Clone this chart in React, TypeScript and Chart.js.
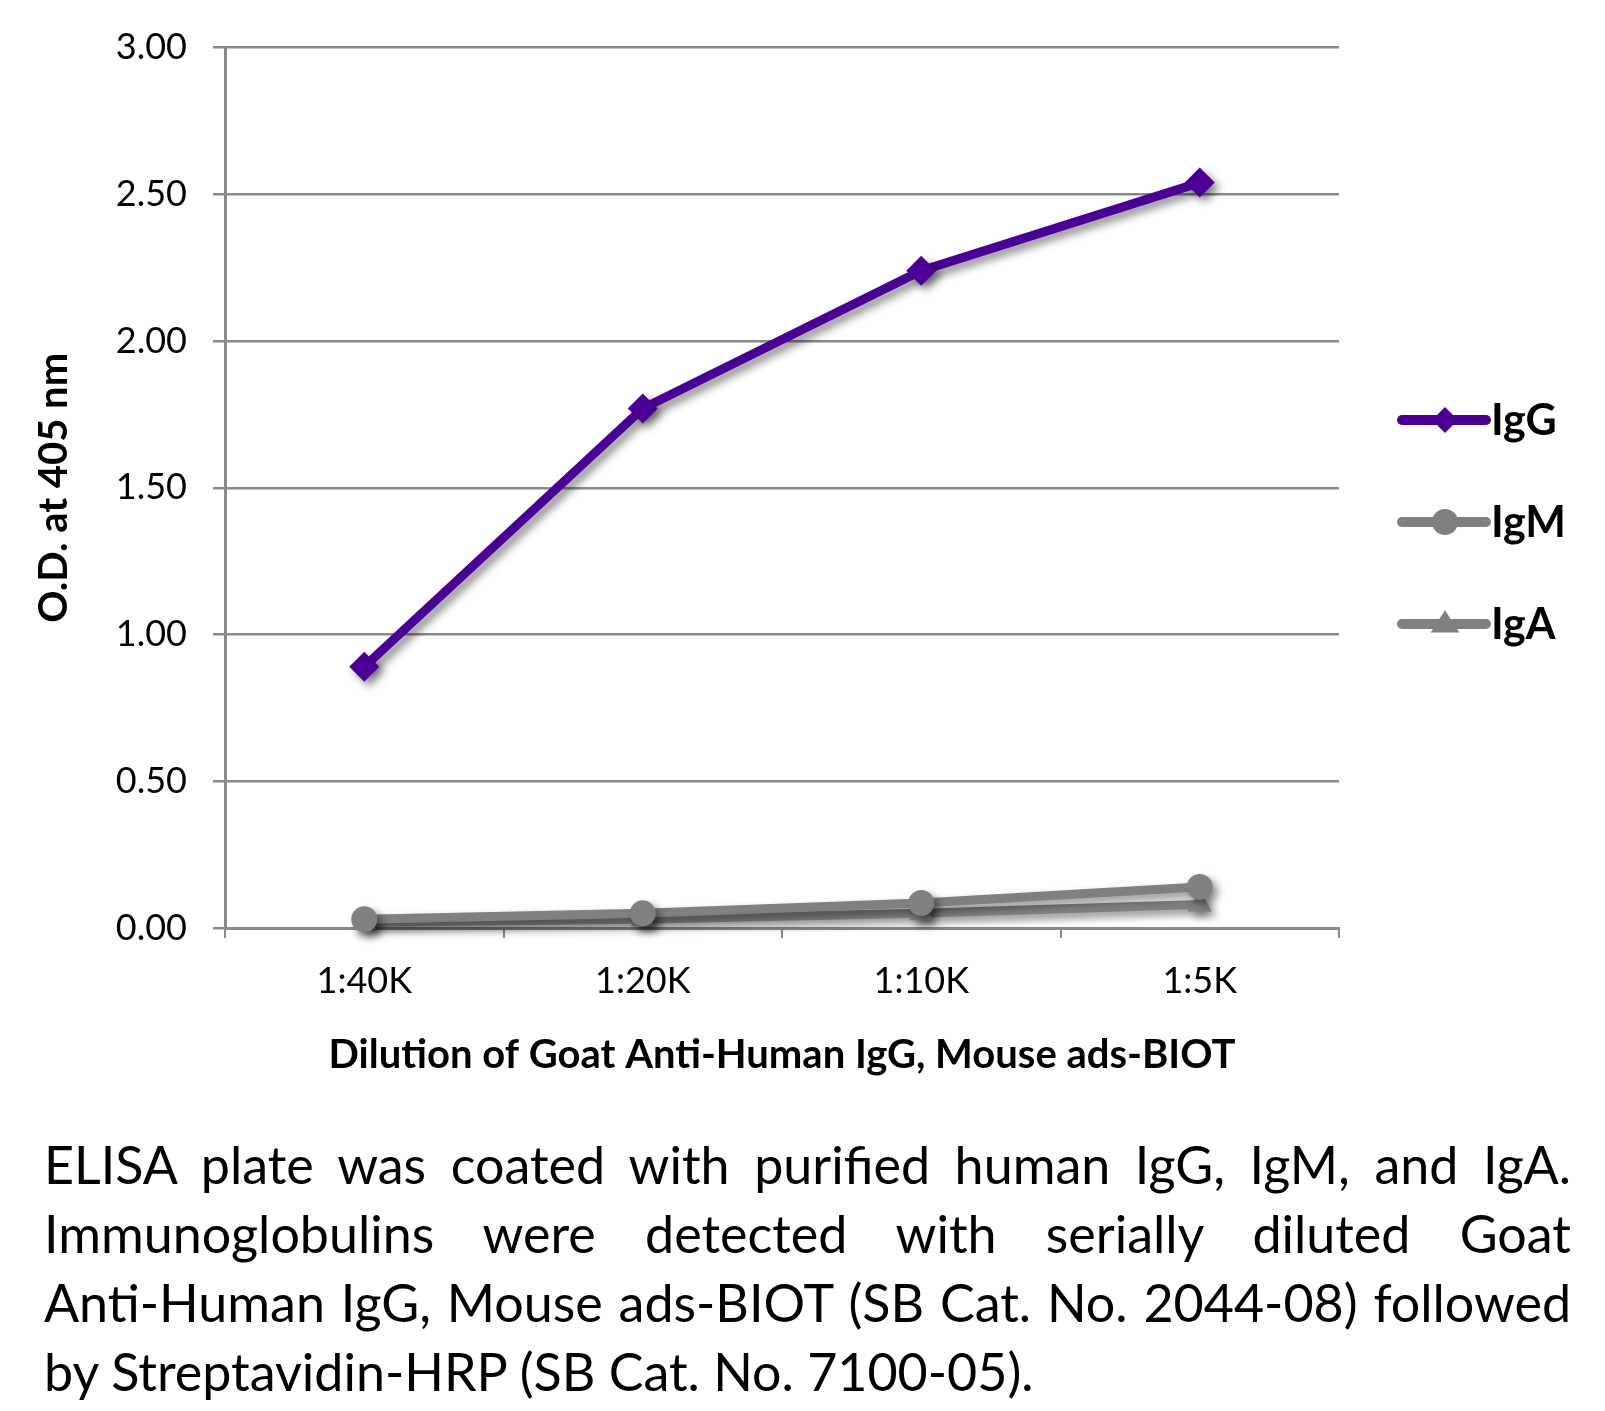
import React, { useEffect, useRef } from "react";
import { Chart, registerables } from "chart.js";

Chart.register(...registerables);

const categories = ["1:40K", "1:20K", "1:10K", "1:5K"];
const igG = [0.89, 1.77, 2.24, 2.54];
const igM = [0.03, 0.05, 0.085, 0.14];
const igA = [0.02, 0.03, 0.05, 0.08];
const seriesNames = ["IgG", "IgM", "IgA"];
const yTickValues = [0, 0.5, 1, 1.5, 2, 2.5, 3];
const yTitle = "O.D. at 405 nm";
const xTitle = "Dilution of Goat Anti-Human IgG, Mouse ads-BIOT";
const captionLines = [
  "ELISA plate was coated with purified human IgG, IgM, and IgA.",
  "Immunoglobulins were detected with serially diluted Goat",
  "Anti-Human IgG, Mouse ads-BIOT (SB Cat. No. 2044-08) followed",
  "by Streptavidin-HRP (SB Cat. No. 7100-05).",
];

const PURPLE = "#4B0095";
const GRAY = "#808080";
const AXIS = "#8a8a8a";
const CANVAS_W = 1605;
const CANVAS_H = 1100;
const PLOT_LEFT = 225;
const PLOT_RIGHT = 1339;
const PLOT_TOP = 46;
const PLOT_BOTTOM = 928;

const shadowPlugin = {
  id: "shadowPlugin",
  beforeDatasetsDraw(chart: any) {
    const ctx = chart.ctx;
    ctx.save();
    ctx.shadowColor = "rgba(0,0,0,0.45)";
    ctx.shadowBlur = 9;
    ctx.shadowOffsetX = 5;
    ctx.shadowOffsetY = 5;
  },
  afterDatasetsDraw(chart: any) {
    chart.ctx.restore();
  },
};

function drawMarker(ctx: CanvasRenderingContext2D, style: string, x: number, y: number, r: number) {
  ctx.beginPath();
  if (style === "rectRot") {
    ctx.moveTo(x - r, y);
    ctx.lineTo(x, y - r);
    ctx.lineTo(x + r, y);
    ctx.lineTo(x, y + r);
    ctx.closePath();
  } else if (style === "circle") {
    ctx.arc(x, y, r, 0, Math.PI * 2);
  } else {
    const h = r * 1.7;
    ctx.moveTo(x, y - h * 0.62);
    ctx.lineTo(x + r * 1.1, y + h * 0.38);
    ctx.lineTo(x - r * 1.1, y + h * 0.38);
    ctx.closePath();
  }
  ctx.fill();
}

const legendPlugin = {
  id: "customLegend",
  afterDraw(chart: any) {
    const ctx = chart.ctx as CanvasRenderingContext2D;
    const ys = [420, 522, 624];
    ctx.save();
    chart.data.datasets.forEach((ds: any, i: number) => {
      const y = ys[i];
      ctx.strokeStyle = ds.borderColor;
      ctx.fillStyle = ds.borderColor;
      ctx.lineWidth = 10;
      ctx.lineCap = "round";
      ctx.beginPath();
      ctx.moveTo(1402, y);
      ctx.lineTo(1486, y);
      ctx.stroke();
      drawMarker(ctx, ds.pointStyle, 1445, y, 13);
      ctx.fillStyle = "#000";
      ctx.font = "bold 43px Lato";
      ctx.textBaseline = "middle";
      ctx.textAlign = "left";
      ctx.fillText(ds.label, 1491, y + 1);
    });
    ctx.restore();
  },
};

export default function App() {
  const canvasRef = useRef<HTMLCanvasElement | null>(null);

  useEffect(() => {
    if (!canvasRef.current) return;
    const chart = new Chart(canvasRef.current, {
      type: "line",
      data: {
        labels: categories,
        datasets: [
          {
            label: seriesNames[0],
            data: igG,
            borderColor: PURPLE,
            backgroundColor: PURPLE,
            borderWidth: 9,
            pointStyle: "rectRot",
            pointRadius: 15,
            pointBorderWidth: 0,
            pointBackgroundColor: PURPLE,
            tension: 0,
            clip: false,
          },
          {
            label: seriesNames[1],
            data: igM,
            borderColor: GRAY,
            backgroundColor: GRAY,
            borderWidth: 9,
            pointStyle: "circle",
            pointRadius: 13,
            pointBorderWidth: 0,
            pointBackgroundColor: GRAY,
            tension: 0,
            clip: false,
          },
          {
            label: seriesNames[2],
            data: igA,
            borderColor: GRAY,
            backgroundColor: GRAY,
            borderWidth: 9,
            pointStyle: "triangle",
            pointRadius: 14,
            pointBorderWidth: 0,
            pointBackgroundColor: GRAY,
            tension: 0,
            clip: false,
          },
        ],
      },
      options: {
        animation: false,
        responsive: false,
        maintainAspectRatio: false,
        layout: {
          padding: { left: 0, top: PLOT_TOP, right: CANVAS_W - PLOT_RIGHT, bottom: 0 },
        },
        plugins: {
          legend: { display: false },
          tooltip: { enabled: false },
        },
        scales: {
          x: {
            type: "category",
            offset: true,
            grid: {
              offset: true,
              drawOnChartArea: false,
              drawTicks: true,
              tickLength: 10,
              color: AXIS,
              lineWidth: 2,
            },
            border: { display: true, color: AXIS, width: 3 },
            ticks: {
              color: "#000",
              font: { family: "Lato", size: 36 },
              padding: 22,
              maxRotation: 0,
            },
            title: {
              display: true,
              text: xTitle,
              color: "#000",
              font: { family: "Lato", size: 40, weight: "bold" },
              padding: { top: 0, bottom: 21 },
            },
            afterFit(scale: any) {
              scale.height = CANVAS_H - PLOT_BOTTOM;
            },
          },
          y: {
            min: 0,
            max: 3,
            afterBuildTicks(scale: any) {
              scale.ticks = yTickValues.map((v) => ({ value: v }));
            },
            grid: {
              color: AXIS,
              lineWidth: 2.5,
              drawTicks: true,
              tickLength: 12,
            },
            border: { display: true, color: AXIS, width: 3 },
            ticks: {
              color: "#000",
              font: { family: "Lato", size: 36 },
              padding: 26,
              callback: (v: any) => Number(v).toFixed(2),
            },
            title: {
              display: true,
              text: yTitle,
              color: "#000",
              font: { family: "Lato", size: 40, weight: "bold" },
              padding: { top: 30, bottom: 0 },
            },
            afterFit(scale: any) {
              scale.width = PLOT_LEFT;
            },
          },
        },
      },
      plugins: [shadowPlugin, legendPlugin],
    } as any);
    return () => chart.destroy();
  }, []);

  return (
    <div
      style={{
        position: "absolute",
        left: 0,
        top: 0,
        width: CANVAS_W,
        height: 1411,
        background: "#fff",
        overflow: "hidden",
      }}
    >
      <canvas
        ref={canvasRef}
        width={CANVAS_W}
        height={CANVAS_H}
        style={{ display: "block", width: CANVAS_W, height: CANVAS_H }}
      />
      <div
        style={{
          position: "absolute",
          left: 44,
          top: 1130,
          width: 1527,
          fontFamily: "Lato",
          fontSize: 52,
          lineHeight: "69px",
          color: "#000",
        }}
      >
        {captionLines.map((line, i) => (
          <div
            key={i}
            style={{
              textAlign: i === captionLines.length - 1 ? "left" : "justify",
              textAlignLast: i === captionLines.length - 1 ? "left" : "justify",
              whiteSpace: "normal",
            }}
          >
            {line}
          </div>
        ))}
      </div>
    </div>
  );
}
